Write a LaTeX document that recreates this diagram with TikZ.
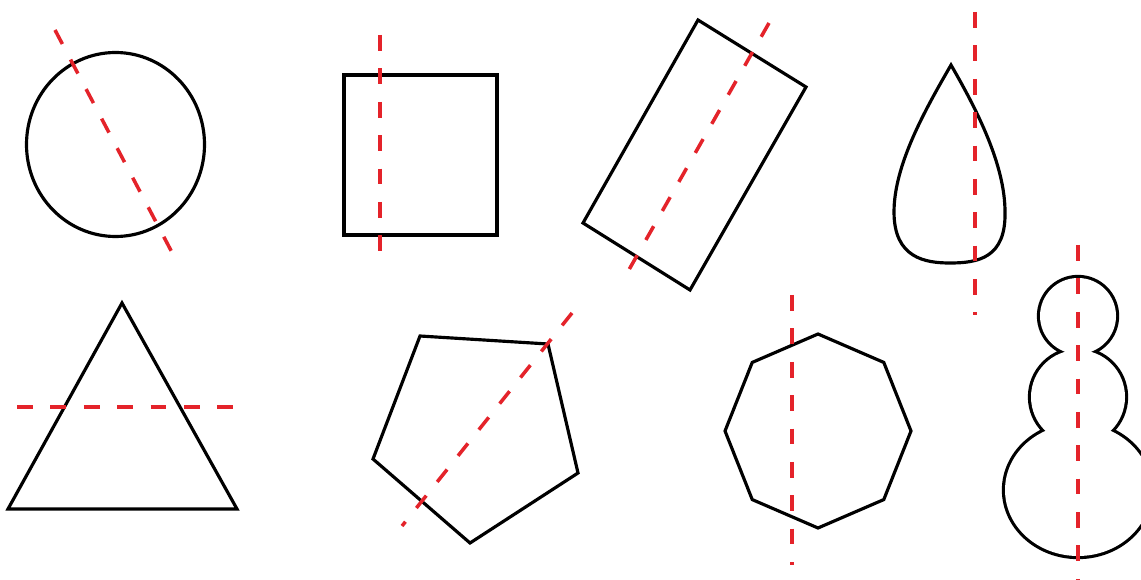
\documentclass[tikz,border=0pt]{standalone}
\usepackage{tikz}
\usetikzlibrary{
    calc,                % For coordinate calculations
}
\definecolor{symred}{RGB}{228,35,42}

\begin{document}
\begin{tikzpicture}[
    x=0.02cm, y=-0.02cm, % one unit = one pixel of the sketch, y downwards
    outline/.style={draw=black, line width=1.8pt, line join=miter}, % Style for the figures
    axisline/.style={draw=symred, line width=2pt, dash pattern=on 9pt off 10pt}, % Symmetry lines
    snowback/.style={draw=black, line width=3.6pt}, % Doubled outline for the union
    snowfill/.style={fill=white}
]
    \useasboundingbox[fill=white] (0,0) rectangle (1141,580);

    % --- Top row ---
    % Circle
    \coordinate (c1) at (115.5,144.5);
    \draw[outline] (c1) ellipse (89 and 92);
    \draw[axisline] (55,30) -- (176,260);

    % Square
    \draw[outline] (344,75) rectangle (497,235);
    \draw[axisline] (380,35) -- (380,266);

    % Tilted rectangle
    \draw[outline] (698,20) -- (806,87) -- (690,290) -- (583,223) -- cycle;
    \draw[axisline] (769,23) -- (622,282);

    % Drop
    \draw[outline] (951,65) .. controls (925,110) and (894,165) .. (894,212)
        .. controls (894,258) and (925,263) .. (950,263)
        .. controls (978,263) and (1006,258) .. (1005,212)
        .. controls (1005,165) and (977,110) .. (951,65) -- cycle;
    \draw[axisline] (975,12) -- (975,315);

    % --- Bottom row ---
    % Triangle
    \draw[outline] (122,303) -- (237,509) -- (8,509) -- cycle;
    \draw[axisline] (17,407) -- (240,407);

    % Pentagon
    \draw[outline] (420,336) -- (548,344) -- (578,473) -- (470,543) -- (373,459) -- cycle;
    \draw[axisline] (572,313) -- (402,526);

    % Octagon
    \coordinate (c8) at (818,431);
    \draw[outline] plot[samples at={0,...,7}, variable=\k]
        ({818+93*cos(90+45*\k)},{431-97*sin(90+45*\k)}) -- cycle;
    \draw[axisline] (792,295) -- (792,565);

    % Snowman (union of three round parts)
    \def\snowparts{
        (1078,316) circle (38)
        (1078,397) circle (47)
        (1078,490) ellipse (73 and 66)
    }
    \path[snowback] \snowparts;
    \path[snowfill] \snowparts;
    \draw[axisline] (1078,245) -- (1078,580);

\end{tikzpicture}
\end{document}
